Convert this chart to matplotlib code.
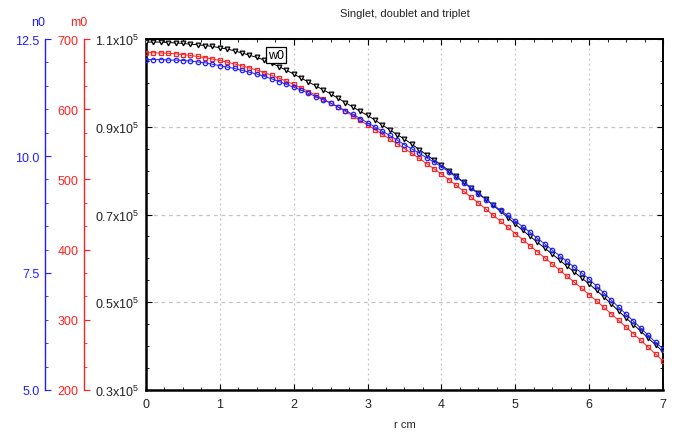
import matplotlib
matplotlib.use('Agg')
import matplotlib.pyplot as plt
from matplotlib.ticker import MultipleLocator, AutoMinorLocator, FuncFormatter, FixedLocator, FormatStrFormatter

plt.rcParams['font.family'] = ['Liberation Sans', 'DejaVu Sans']
plt.rcParams['mathtext.fontset'] = 'custom'
plt.rcParams['mathtext.rm'] = 'Liberation Sans'

# ---------------- data ----------------
r_cm = [0.0, 0.1, 0.2, 0.3, 0.4, 0.5, 0.6, 0.7, 0.8, 0.9,
        1.0, 1.1, 1.2, 1.3, 1.4, 1.5, 1.6, 1.7, 1.8, 1.9,
        2.0, 2.1, 2.2, 2.3, 2.4, 2.5, 2.6, 2.7, 2.8, 2.9,
        3.0, 3.1, 3.2, 3.3, 3.4, 3.5, 3.6, 3.7, 3.8, 3.9,
        4.0, 4.1, 4.2, 4.3, 4.4, 4.5, 4.6, 4.7, 4.8, 4.9,
        5.0, 5.1, 5.2, 5.3, 5.4, 5.5, 5.6, 5.7, 5.8, 5.9,
        6.0, 6.1, 6.2, 6.3, 6.4, 6.5, 6.6, 6.7, 6.8, 6.9, 7.0]

# w0 in units of 10^5
w0 = [1.093, 1.093, 1.093, 1.092, 1.091, 1.090, 1.088, 1.087, 1.085, 1.083,
      1.080, 1.077, 1.073, 1.068, 1.063, 1.058, 1.052, 1.045, 1.037, 1.029,
      1.020, 1.011, 1.002, 0.993, 0.984, 0.975, 0.965, 0.955, 0.945, 0.935,
      0.926, 0.915, 0.904, 0.893, 0.882, 0.872, 0.860, 0.848, 0.836, 0.824,
      0.813, 0.800, 0.787, 0.774, 0.761, 0.749, 0.735, 0.721, 0.707, 0.693,
      0.678, 0.664, 0.650, 0.637, 0.623, 0.610, 0.596, 0.582, 0.569, 0.555,
      0.542, 0.527, 0.512, 0.496, 0.480, 0.464, 0.449, 0.434, 0.418, 0.403, 0.387]

m0 = [680.5, 680.4, 680.1, 679.6, 678.9, 677.9, 676.6, 675.1, 673.4, 671.5,
      669.4, 667.0, 664.4, 661.7, 658.8, 655.8, 652.2, 648.3, 644.2, 639.8,
      635.2, 630.3, 625.2, 619.9, 614.4, 608.8, 602.9, 596.8, 590.5, 584.1,
      577.5, 570.9, 564.2, 557.5, 550.8, 544.0, 537.0, 529.8, 522.5, 515.1,
      507.7, 499.7, 491.5, 483.2, 474.8, 466.4, 457.8, 449.1, 440.4, 431.7,
      422.9, 414.2, 405.5, 396.8, 388.2, 379.5, 370.8, 362.1, 353.4, 344.7,
      336.0, 326.9, 317.7, 308.4, 299.1, 289.7, 280.2, 270.6, 260.9, 251.1, 241.3]

n0 = [12.06, 12.06, 12.06, 12.05, 12.05, 12.04, 12.03, 12.01, 11.99, 11.96,
      11.93, 11.90, 11.87, 11.83, 11.79, 11.75, 11.70, 11.65, 11.59, 11.53,
      11.47, 11.41, 11.34, 11.27, 11.20, 11.13, 11.05, 10.97, 10.89, 10.80,
      10.71, 10.62, 10.53, 10.44, 10.34, 10.24, 10.15, 10.06, 9.96, 9.87,
      9.77, 9.66, 9.55, 9.43, 9.31, 9.19, 9.07, 8.96, 8.84, 8.73,
      8.61, 8.49, 8.37, 8.24, 8.12, 7.99, 7.87, 7.75, 7.62, 7.50,
      7.37, 7.22, 7.07, 6.92, 6.77, 6.62, 6.47, 6.32, 6.17, 6.02, 5.88]

w0_ticks = [0.3, 0.5, 0.7, 0.9, 1.1]
m0_ticks = [200, 300, 400, 500, 600, 700]
n0_ticks = [5.0, 7.5, 10.0, 12.5]
x_ticks = [0, 1, 2, 3, 4, 5, 6, 7]

title = 'Singlet, doublet and triplet'
xlabel = 'r cm'

# ---------------- figure ----------------
W, H = 676, 435
PX2PT = 72 / 100.0
fig = plt.figure(figsize=(W / 100, H / 100), dpi=100)
ax = fig.add_axes([146 / W, 44 / H, 517 / W, 351 / H])

ax_m = ax.twinx()
ax_n = ax.twinx()

fs = 9

# black (main) axis
ax.set_xlim(0, 7)
ax.set_ylim(0.3, 1.1)
ax.xaxis.set_major_locator(FixedLocator(x_ticks))
ax.xaxis.set_minor_locator(MultipleLocator(0.25))
ax.yaxis.set_major_locator(FixedLocator(w0_ticks))
ax.yaxis.set_minor_locator(MultipleLocator(0.05))
ax.yaxis.set_major_formatter(FuncFormatter(lambda v, p: '%.1fx10$^{5}$' % v))
ax.tick_params(which='both', direction='in', top=True, right=True, labelsize=fs,
               color='black', labelcolor='#222222')
ax.tick_params(which='major', length=4, width=0.8, pad=5)
ax.tick_params(which='minor', length=2.5, width=0.6)
ax.tick_params(axis='x', which='major', pad=6)
for s in ['left', 'bottom']:
    ax.spines[s].set_linewidth(1.8)
for s in ['top', 'right']:
    ax.spines[s].set_linewidth(1.4)
ax.grid(True, axis='x', which='major', linestyle=(0, (1.5, 2.5)), color='#c4c4c4', lw=0.9)
ax.grid(True, axis='y', which='major', linestyle=(0, (3, 3)), color='#c4c4c4', lw=0.9)

ax.plot(r_cm, w0, color='black', lw=0.7, marker='v', ms=3.4, mfc='#dddddd',
        mec='black', mew=0.9, zorder=3)
ax.text(1.76, 1.064, 'w0', ha='center', va='center', fontsize=fs, zorder=10,
        bbox=dict(boxstyle='square,pad=0.15', fc='white', ec='black', lw=0.9))

# extra left axes
for a, off_px, col, lim, ticks, minor in [
        (ax_m, 62, '#ff2020', (200, 700), m0_ticks, AutoMinorLocator(3)),
        (ax_n, 101, '#1f1fff', (5.0, 12.5), n0_ticks, MultipleLocator(0.5))]:
    a.spines['left'].set_position(('outward', off_px * PX2PT))
    a.spines['left'].set_visible(True)
    a.spines['left'].set_color(col)
    a.spines['left'].set_linewidth(1.0)
    for s in ['right', 'top', 'bottom']:
        a.spines[s].set_visible(False)
    a.yaxis.set_ticks_position('left')
    a.yaxis.set_label_position('left')
    a.set_ylim(*lim)
    a.yaxis.set_major_locator(FixedLocator(ticks))
    a.yaxis.set_minor_locator(minor)
    a.tick_params(which='both', direction='in', colors=col, labelsize=fs)
    a.tick_params(which='major', length=4, width=0.8, pad=4)
    a.tick_params(which='minor', length=2.5, width=0.6)
    a.patch.set_visible(False)

ax_m.yaxis.set_major_formatter(FormatStrFormatter('%d'))
ax_n.yaxis.set_major_formatter(FormatStrFormatter('%.1f'))

ax_m.plot(r_cm, m0, color='#ff2020', lw=0.7, marker='s', ms=3.4, mfc='none',
          mec='#ff2020', mew=0.9, zorder=3)
ax_n.plot(r_cm, n0, color='#1f1fff', lw=0.7, marker='o', ms=3.2, mfc='none',
          mec='#1f1fff', mew=0.9, zorder=3)

# axis titles
fig.text(45 / W, 1 - 23 / H, 'n0', color='#1f1fff', ha='right', va='center', fontsize=fs)
fig.text(87 / W, 1 - 23 / H, 'm0', color='#ff2020', ha='right', va='center', fontsize=fs)
fig.text(404.5 / W, 1 - 14 / H, title, ha='center', va='center', fontsize=8, color='#222222')
fig.text(404.5 / W, 1 - 425 / H, xlabel, ha='center', va='center', fontsize=8, color='#222222')

fig.savefig('out.png', dpi=100)
